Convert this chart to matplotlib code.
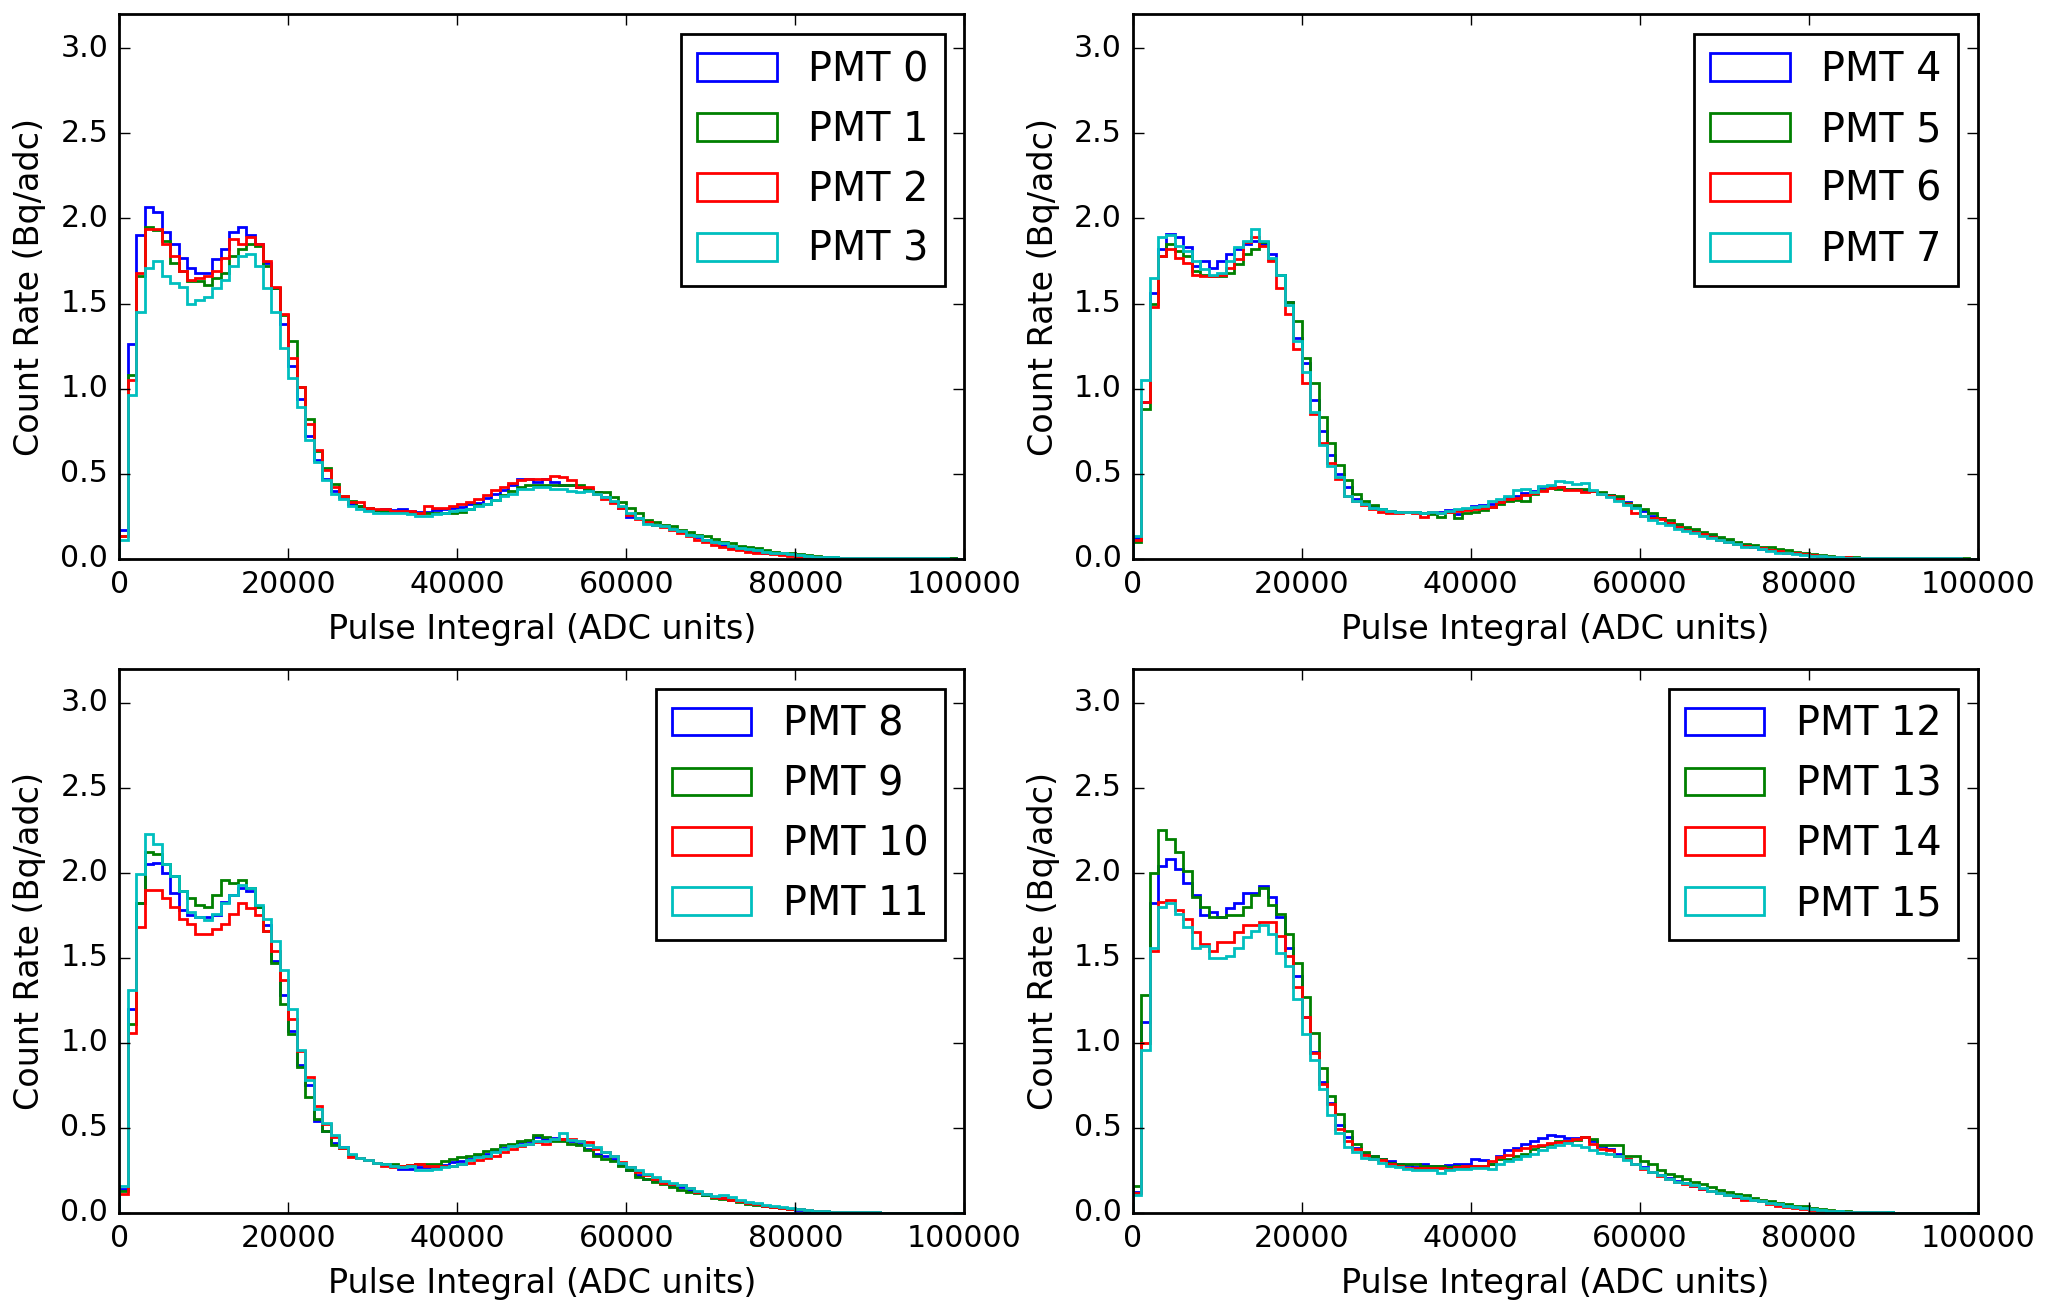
import numpy as np
import matplotlib
matplotlib.use("Agg")
import matplotlib.pyplot as plt

# ---------------- data (count rate per 1000-ADC bin, Bq/adc) ----------------
bin_lo, bin_hi, n_bins = 0, 100000, 100

pmt0 = [0.17, 1.26, 1.90, 2.07, 2.04, 1.92, 1.85, 1.77, 1.71, 1.68,
        1.68, 1.76, 1.82, 1.92, 1.95, 1.90, 1.85, 1.74, 1.59, 1.38,
        1.13, 0.94, 0.72, 0.58, 0.47, 0.40, 0.36, 0.32, 0.31, 0.29,
        0.285, 0.29, 0.285, 0.29, 0.28, 0.275, 0.275, 0.285, 0.29, 0.30,
        0.305, 0.32, 0.325, 0.355, 0.38, 0.405, 0.43, 0.465, 0.465, 0.45,
        0.465, 0.45, 0.435, 0.43, 0.42, 0.41, 0.39, 0.36, 0.335, 0.30,
        0.245, 0.24, 0.215, 0.20, 0.19, 0.175, 0.16, 0.14, 0.125, 0.11,
        0.095, 0.08, 0.07, 0.06, 0.05, 0.04, 0.035, 0.03, 0.024, 0.02,
        0.016, 0.012, 0.010, 0.008, 0.006, 0.005, 0.004, 0.003, 0.002, 0.002,
        0.0015, 0.001, 0.001, 0.001, 0.0008, 0.0006, 0.0005, 0.0004, 0.0003, 0.0002]
pmt1 = [0.13, 1.08, 1.66, 1.95, 1.93, 1.87, 1.74, 1.69, 1.63, 1.63,
        1.61, 1.65, 1.68, 1.78, 1.82, 1.85, 1.84, 1.72, 1.59, 1.43,
        1.28, 1.01, 0.82, 0.63, 0.53, 0.44, 0.37, 0.34, 0.31, 0.295,
        0.285, 0.28, 0.275, 0.275, 0.27, 0.27, 0.265, 0.265, 0.27, 0.265,
        0.275, 0.29, 0.315, 0.32, 0.345, 0.375, 0.40, 0.42, 0.43, 0.43,
        0.435, 0.435, 0.43, 0.43, 0.43, 0.41, 0.39, 0.39, 0.36, 0.335,
        0.295, 0.265, 0.225, 0.215, 0.20, 0.19, 0.17, 0.155, 0.14, 0.13,
        0.115, 0.10, 0.09, 0.075, 0.07, 0.06, 0.05, 0.04, 0.035, 0.03,
        0.024, 0.018, 0.014, 0.011, 0.008, 0.006, 0.005, 0.004, 0.003, 0.002,
        0.0015, 0.0012, 0.001, 0.001, 0.0008, 0.0006, 0.0005, 0.0004, 0.0003, 0.0002]
pmt2 = [0.13, 1.05, 1.68, 1.94, 1.94, 1.85, 1.78, 1.69, 1.64, 1.65,
        1.66, 1.69, 1.77, 1.88, 1.85, 1.89, 1.85, 1.75, 1.60, 1.44,
        1.18, 1.01, 0.79, 0.64, 0.52, 0.42, 0.37, 0.33, 0.33, 0.30,
        0.29, 0.29, 0.28, 0.28, 0.28, 0.27, 0.31, 0.30, 0.30, 0.31,
        0.32, 0.33, 0.35, 0.375, 0.405, 0.42, 0.445, 0.46, 0.465, 0.465,
        0.47, 0.485, 0.48, 0.46, 0.42, 0.42, 0.38, 0.35, 0.325, 0.30,
        0.255, 0.235, 0.215, 0.195, 0.185, 0.165, 0.15, 0.13, 0.11, 0.10,
        0.08, 0.07, 0.055, 0.05, 0.04, 0.035, 0.03, 0.024, 0.02, 0.016,
        0.012, 0.010, 0.008, 0.006, 0.005, 0.004, 0.003, 0.002, 0.002, 0.001,
        0.001, 0.001, 0.0008, 0.0006, 0.0005, 0.0004, 0.0003, 0.0002, 0.0002, 0.0001]
pmt3 = [0.11, 0.96, 1.45, 1.71, 1.75, 1.66, 1.62, 1.60, 1.50, 1.52,
        1.54, 1.59, 1.64, 1.72, 1.78, 1.79, 1.72, 1.59, 1.45, 1.24,
        1.06, 0.89, 0.70, 0.57, 0.46, 0.38, 0.35, 0.31, 0.29, 0.28,
        0.27, 0.265, 0.265, 0.265, 0.26, 0.25, 0.25, 0.26, 0.265, 0.28,
        0.285, 0.29, 0.31, 0.32, 0.345, 0.37, 0.38, 0.41, 0.41, 0.42,
        0.42, 0.41, 0.41, 0.40, 0.39, 0.395, 0.38, 0.36, 0.34, 0.31,
        0.265, 0.24, 0.205, 0.20, 0.19, 0.175, 0.16, 0.14, 0.13, 0.11,
        0.10, 0.09, 0.075, 0.06, 0.055, 0.05, 0.04, 0.035, 0.03, 0.024,
        0.02, 0.015, 0.012, 0.009, 0.007, 0.005, 0.004, 0.003, 0.002, 0.002,
        0.0015, 0.001, 0.001, 0.0008, 0.0006, 0.0005, 0.0004, 0.0003, 0.0002, 0.0002]

pmt4 = [0.12, 0.92, 1.56, 1.82, 1.91, 1.89, 1.83, 1.72, 1.75, 1.71,
        1.75, 1.79, 1.82, 1.85, 1.87, 1.85, 1.79, 1.67, 1.51, 1.30,
        1.15, 0.93, 0.75, 0.61, 0.50, 0.42, 0.35, 0.32, 0.31, 0.29,
        0.28, 0.275, 0.273, 0.273, 0.267, 0.273, 0.273, 0.288, 0.263, 0.292,
        0.31, 0.316, 0.322, 0.335, 0.355, 0.367, 0.386, 0.40, 0.42, 0.429,
        0.423, 0.41, 0.41, 0.40, 0.40, 0.386, 0.374, 0.355, 0.331, 0.308,
        0.28, 0.25, 0.24, 0.21, 0.195, 0.175, 0.16, 0.145, 0.135, 0.115,
        0.105, 0.09, 0.08, 0.065, 0.055, 0.05, 0.04, 0.035, 0.03, 0.025,
        0.02, 0.016, 0.012, 0.009, 0.007, 0.005, 0.004, 0.003, 0.002, 0.002,
        0.0015, 0.001, 0.001, 0.0008, 0.0006, 0.0005, 0.0004, 0.0003, 0.0002, 0.0002]
pmt5 = [0.10, 0.88, 1.50, 1.78, 1.85, 1.81, 1.78, 1.69, 1.67, 1.66,
        1.66, 1.68, 1.73, 1.79, 1.82, 1.86, 1.76, 1.67, 1.51, 1.40,
        1.18, 1.03, 0.83, 0.68, 0.55, 0.46, 0.38, 0.34, 0.315, 0.29,
        0.28, 0.275, 0.273, 0.273, 0.267, 0.263, 0.247, 0.273, 0.24, 0.269,
        0.276, 0.288, 0.302, 0.322, 0.341, 0.345, 0.341, 0.38, 0.406, 0.414,
        0.41, 0.41, 0.41, 0.41, 0.40, 0.394, 0.374, 0.367, 0.327, 0.312,
        0.29, 0.265, 0.24, 0.225, 0.205, 0.185, 0.175, 0.155, 0.145, 0.125,
        0.115, 0.10, 0.085, 0.08, 0.07, 0.065, 0.055, 0.05, 0.04, 0.033,
        0.026, 0.02, 0.016, 0.012, 0.009, 0.007, 0.005, 0.004, 0.003, 0.002,
        0.0015, 0.0012, 0.001, 0.001, 0.0008, 0.0006, 0.0005, 0.0004, 0.0003, 0.0002]
pmt6 = [0.11, 0.92, 1.48, 1.78, 1.82, 1.77, 1.74, 1.67, 1.66, 1.66,
        1.67, 1.71, 1.76, 1.86, 1.89, 1.84, 1.75, 1.59, 1.44, 1.23,
        1.03, 0.85, 0.68, 0.56, 0.47, 0.37, 0.34, 0.315, 0.29, 0.275,
        0.27, 0.265, 0.273, 0.267, 0.243, 0.273, 0.269, 0.276, 0.282, 0.288,
        0.292, 0.296, 0.302, 0.331, 0.351, 0.357, 0.374, 0.386, 0.40, 0.414,
        0.419, 0.406, 0.404, 0.394, 0.40, 0.38, 0.365, 0.351, 0.322, 0.269,
        0.25, 0.24, 0.23, 0.21, 0.185, 0.165, 0.155, 0.145, 0.125, 0.11,
        0.095, 0.085, 0.075, 0.065, 0.06, 0.05, 0.045, 0.035, 0.03, 0.025,
        0.02, 0.016, 0.012, 0.009, 0.007, 0.005, 0.004, 0.003, 0.002, 0.002,
        0.0015, 0.001, 0.001, 0.0008, 0.0006, 0.0005, 0.0004, 0.0003, 0.0002, 0.0002]
pmt7 = [0.13, 1.05, 1.65, 1.89, 1.90, 1.84, 1.81, 1.75, 1.70, 1.67,
        1.68, 1.75, 1.83, 1.87, 1.94, 1.87, 1.77, 1.67, 1.49, 1.28,
        1.10, 0.86, 0.67, 0.545, 0.48, 0.37, 0.34, 0.32, 0.30, 0.29,
        0.28, 0.275, 0.273, 0.273, 0.267, 0.273, 0.269, 0.282, 0.292, 0.296,
        0.302, 0.308, 0.341, 0.35, 0.367, 0.406, 0.41, 0.394, 0.429, 0.433,
        0.459, 0.453, 0.439, 0.445, 0.406, 0.38, 0.361, 0.341, 0.316, 0.296,
        0.253, 0.225, 0.21, 0.195, 0.175, 0.16, 0.15, 0.135, 0.12, 0.11,
        0.095, 0.085, 0.07, 0.065, 0.055, 0.045, 0.035, 0.03, 0.025, 0.02,
        0.017, 0.013, 0.01, 0.008, 0.006, 0.005, 0.004, 0.003, 0.002, 0.002,
        0.0015, 0.001, 0.001, 0.0008, 0.0006, 0.0005, 0.0004, 0.0003, 0.0002, 0.0002]

pmt8 = [0.14, 1.20, 1.82, 2.05, 2.06, 2.00, 1.88, 1.78, 1.75, 1.74,
        1.74, 1.75, 1.83, 1.87, 1.91, 1.89, 1.80, 1.69, 1.48, 1.28,
        1.07, 0.87, 0.75, 0.54, 0.48, 0.41, 0.386, 0.34, 0.32, 0.31,
        0.295, 0.29, 0.275, 0.259, 0.259, 0.269, 0.269, 0.269, 0.282, 0.298,
        0.302, 0.318, 0.333, 0.347, 0.367, 0.381, 0.396, 0.416, 0.425, 0.445,
        0.435, 0.439, 0.435, 0.425, 0.406, 0.376, 0.347, 0.333, 0.314, 0.282,
        0.249, 0.22, 0.20, 0.19, 0.176, 0.161, 0.151, 0.137, 0.125, 0.106,
        0.092, 0.086, 0.078, 0.067, 0.057, 0.051, 0.043, 0.035, 0.027, 0.021,
        0.017, 0.013, 0.01, 0.008, 0.006, 0.005, 0.004, 0.003, 0.002, 0.002,
        0.0015, 0.001, 0.001, 0.0008, 0.0006, 0.0005, 0.0004, 0.0003, 0.0002, 0.0002]
pmt9 = [0.13, 1.11, 1.82, 2.12, 2.11, 2.05, 1.98, 1.89, 1.85, 1.81,
        1.80, 1.87, 1.96, 1.94, 1.96, 1.91, 1.80, 1.66, 1.47, 1.23,
        1.05, 0.86, 0.68, 0.55, 0.48, 0.40, 0.38, 0.34, 0.32, 0.31,
        0.295, 0.29, 0.285, 0.277, 0.282, 0.288, 0.288, 0.288, 0.302, 0.314,
        0.327, 0.337, 0.347, 0.361, 0.373, 0.396, 0.406, 0.42, 0.431, 0.455,
        0.445, 0.425, 0.425, 0.406, 0.396, 0.367, 0.337, 0.318, 0.302, 0.278,
        0.249, 0.21, 0.196, 0.18, 0.171, 0.151, 0.137, 0.125, 0.118, 0.102,
        0.086, 0.082, 0.073, 0.063, 0.053, 0.047, 0.039, 0.033, 0.027, 0.023,
        0.02, 0.015, 0.012, 0.009, 0.007, 0.005, 0.004, 0.003, 0.002, 0.002,
        0.0015, 0.001, 0.001, 0.0008, 0.0006, 0.0005, 0.0004, 0.0003, 0.0002, 0.0002]
pmt10 = [0.11, 1.06, 1.68, 1.90, 1.90, 1.85, 1.80, 1.73, 1.70, 1.64,
         1.64, 1.67, 1.70, 1.76, 1.82, 1.79, 1.75, 1.66, 1.54, 1.37,
         1.14, 0.95, 0.80, 0.63, 0.52, 0.445, 0.38, 0.33, 0.32, 0.31,
         0.295, 0.275, 0.269, 0.278, 0.282, 0.288, 0.278, 0.278, 0.275, 0.278,
         0.288, 0.294, 0.308, 0.322, 0.337, 0.357, 0.373, 0.392, 0.406, 0.416,
         0.406, 0.435, 0.435, 0.435, 0.425, 0.416, 0.376, 0.357, 0.333, 0.298,
         0.269, 0.239, 0.224, 0.20, 0.176, 0.171, 0.161, 0.145, 0.125, 0.112,
         0.092, 0.086, 0.078, 0.067, 0.057, 0.049, 0.043, 0.033, 0.027, 0.024,
         0.02, 0.015, 0.012, 0.009, 0.007, 0.005, 0.004, 0.003, 0.002, 0.002,
         0.0015, 0.001, 0.001, 0.0008, 0.0006, 0.0005, 0.0004, 0.0003, 0.0002, 0.0002]
pmt11 = [0.157, 1.31, 1.99, 2.23, 2.17, 2.05, 1.98, 1.89, 1.77, 1.74,
         1.72, 1.76, 1.82, 1.87, 1.93, 1.91, 1.81, 1.73, 1.60, 1.43,
         1.20, 0.96, 0.78, 0.61, 0.53, 0.455, 0.39, 0.345, 0.32, 0.31,
         0.295, 0.29, 0.278, 0.269, 0.275, 0.249, 0.249, 0.259, 0.269, 0.278,
         0.288, 0.308, 0.327, 0.337, 0.357, 0.376, 0.392, 0.40, 0.406, 0.42,
         0.425, 0.435, 0.47, 0.431, 0.425, 0.396, 0.386, 0.357, 0.333, 0.294,
         0.269, 0.249, 0.229, 0.21, 0.19, 0.176, 0.161, 0.145, 0.131, 0.112,
         0.098, 0.106, 0.092, 0.073, 0.063, 0.055, 0.047, 0.039, 0.033, 0.027,
         0.021, 0.016, 0.012, 0.009, 0.007, 0.005, 0.004, 0.003, 0.002, 0.002,
         0.0015, 0.001, 0.001, 0.0008, 0.0006, 0.0005, 0.0004, 0.0003, 0.0002, 0.0002]

pmt12 = [0.125, 1.125, 1.82, 2.04, 2.08, 2.02, 1.94, 1.87, 1.75, 1.77,
         1.74, 1.79, 1.82, 1.88, 1.88, 1.92, 1.86, 1.74, 1.56, 1.39,
         1.15, 0.945, 0.77, 0.645, 0.515, 0.445, 0.383, 0.347, 0.333, 0.318,
         0.302, 0.29, 0.282, 0.269, 0.288, 0.278, 0.275, 0.282, 0.288, 0.288,
         0.314, 0.308, 0.288, 0.333, 0.367, 0.38, 0.406, 0.425, 0.439, 0.459,
         0.451, 0.439, 0.439, 0.445, 0.425, 0.392, 0.373, 0.347, 0.318, 0.288,
         0.269, 0.243, 0.22, 0.204, 0.19, 0.176, 0.157, 0.141, 0.131, 0.118,
         0.106, 0.092, 0.082, 0.073, 0.067, 0.059, 0.047, 0.039, 0.033, 0.027,
         0.022, 0.016, 0.012, 0.009, 0.007, 0.005, 0.004, 0.003, 0.002, 0.002,
         0.0015, 0.001, 0.001, 0.0008, 0.0006, 0.0005, 0.0004, 0.0003, 0.0002, 0.0002]
pmt13 = [0.157, 1.28, 2.00, 2.25, 2.20, 2.12, 2.01, 1.86, 1.80, 1.74,
         1.74, 1.75, 1.75, 1.80, 1.87, 1.91, 1.81, 1.76, 1.64, 1.47,
         1.27, 1.06, 0.85, 0.69, 0.58, 0.48, 0.403, 0.357, 0.333, 0.318,
         0.294, 0.288, 0.288, 0.288, 0.275, 0.275, 0.275, 0.269, 0.278, 0.269,
         0.275, 0.278, 0.288, 0.314, 0.318, 0.333, 0.347, 0.376, 0.392, 0.406,
         0.42, 0.425, 0.431, 0.445, 0.435, 0.396, 0.396, 0.396, 0.337, 0.333,
         0.305, 0.288, 0.249, 0.229, 0.216, 0.20, 0.184, 0.171, 0.151, 0.137,
         0.125, 0.112, 0.102, 0.086, 0.078, 0.067, 0.059, 0.053, 0.043, 0.039,
         0.027, 0.022, 0.017, 0.013, 0.01, 0.007, 0.005, 0.004, 0.003, 0.002,
         0.0015, 0.0012, 0.001, 0.001, 0.0008, 0.0006, 0.0005, 0.0004, 0.0003, 0.0002]
pmt14 = [0.118, 1.00, 1.54, 1.83, 1.84, 1.78, 1.73, 1.65, 1.58, 1.54,
         1.59, 1.59, 1.65, 1.69, 1.69, 1.71, 1.71, 1.63, 1.51, 1.33,
         1.15, 0.94, 0.76, 0.64, 0.495, 0.425, 0.378, 0.341, 0.318, 0.308,
         0.288, 0.275, 0.263, 0.263, 0.263, 0.263, 0.263, 0.259, 0.269, 0.275,
         0.275, 0.278, 0.302, 0.327, 0.341, 0.367, 0.38, 0.392, 0.40, 0.412,
         0.416, 0.425, 0.435, 0.445, 0.406, 0.376, 0.367, 0.337, 0.318, 0.288,
         0.259, 0.239, 0.216, 0.196, 0.184, 0.171, 0.157, 0.141, 0.131, 0.118,
         0.102, 0.092, 0.078, 0.073, 0.067, 0.053, 0.043, 0.033, 0.027, 0.02,
         0.014, 0.01, 0.008, 0.006, 0.005, 0.004, 0.003, 0.002, 0.002, 0.001,
         0.001, 0.001, 0.0008, 0.0006, 0.0005, 0.0004, 0.0003, 0.0002, 0.0002, 0.0001]
pmt15 = [0.106, 0.955, 1.56, 1.80, 1.82, 1.76, 1.68, 1.56, 1.57, 1.50,
         1.50, 1.51, 1.56, 1.62, 1.66, 1.69, 1.64, 1.53, 1.45, 1.26,
         1.05, 0.90, 0.73, 0.575, 0.47, 0.39, 0.358, 0.325, 0.314, 0.294,
         0.278, 0.269, 0.259, 0.249, 0.249, 0.249, 0.235, 0.249, 0.255, 0.259,
         0.263, 0.263, 0.259, 0.288, 0.302, 0.318, 0.333, 0.347, 0.367, 0.386,
         0.40, 0.412, 0.396, 0.386, 0.367, 0.353, 0.347, 0.333, 0.308, 0.288,
         0.263, 0.243, 0.22, 0.2, 0.184, 0.176, 0.161, 0.145, 0.131, 0.118,
         0.106, 0.098, 0.086, 0.076, 0.067, 0.059, 0.051, 0.043, 0.033, 0.027,
         0.022, 0.016, 0.012, 0.009, 0.007, 0.005, 0.004, 0.003, 0.002, 0.002,
         0.0015, 0.001, 0.001, 0.0008, 0.0006, 0.0005, 0.0004, 0.0003, 0.0002, 0.0002]

panels = [
    (["PMT 0", "PMT 1", "PMT 2", "PMT 3"], [pmt0, pmt1, pmt2, pmt3]),
    (["PMT 4", "PMT 5", "PMT 6", "PMT 7"], [pmt4, pmt5, pmt6, pmt7]),
    (["PMT 8", "PMT 9", "PMT 10", "PMT 11"], [pmt8, pmt9, pmt10, pmt11]),
    (["PMT 12", "PMT 13", "PMT 14", "PMT 15"], [pmt12, pmt13, pmt14, pmt15]),
]
colors = ["b", "g", "r", "c"]
x_ticks = [0, 20000, 40000, 60000, 80000, 100000]
y_ticks = [0.0, 0.5, 1.0, 1.5, 2.0, 2.5, 3.0]
x_label = "Pulse Integral (ADC units)"
y_label = "Count Rate (Bq/adc)"

# ---------------- plotting ----------------
plt.style.use("classic")
plt.rcParams["font.family"] = ["DejaVu Sans"]
plt.rcParams["figure.facecolor"] = "white"
plt.rcParams["savefig.facecolor"] = "white"

fig, axes = plt.subplots(2, 2, figsize=(10.29, 6.57), dpi=200)
fig.subplots_adjust(left=0.058, right=0.961, bottom=0.077, top=0.989,
                    wspace=0.199, hspace=0.2025)

edges = np.linspace(bin_lo, bin_hi, n_bins + 1)
for ax, (labels, series) in zip(axes.flat, panels):
    for lab, vals, col in zip(labels, series, colors):
        ax.hist(edges[:-1], bins=edges, weights=vals, histtype="step",
                color=col, label=lab, linewidth=1.0)
    ax.set_xlim(0, 100000)
    ax.set_ylim(0, 3.2)
    ax.set_xticks(x_ticks)
    ax.set_yticks(y_ticks)
    ax.tick_params(labelsize=10.8)
    ax.set_xlabel(x_label, fontsize=12)
    ax.set_ylabel(y_label, fontsize=12)
    ax.legend(loc="upper right", fontsize=14.3)

fig.savefig("out.png", dpi=200, facecolor="white")
